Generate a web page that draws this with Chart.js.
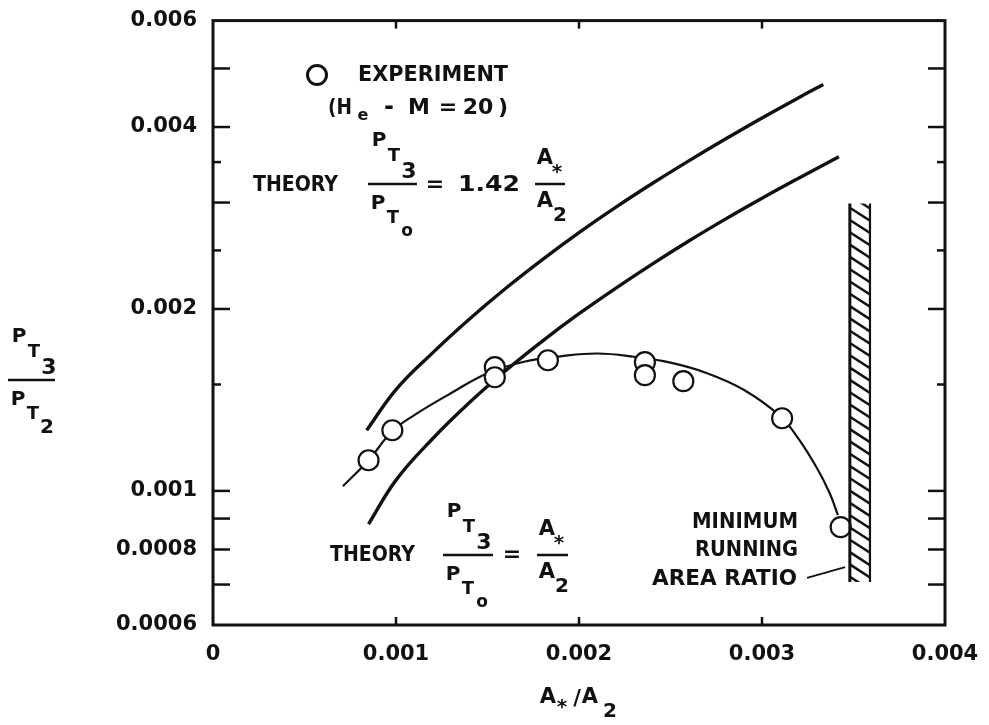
<!DOCTYPE html>
<html>
<head>
<meta charset="utf-8">
<script src="https://cdn.jsdelivr.net/npm/chart.js@4.4.1/dist/chart.umd.min.js"></script>
<style>
  html, body { margin: 0; padding: 0; background: #fff; }
  #contenedor { width: 989px; height: 725px; }
</style>
</head>
<body>
<div id="contenedor"><canvas id="grafica"></canvas></div>
<script>
// Puntos experimentales (He - M = 20)
const expX = [0.00085, 0.00098, 0.00154, 0.00154, 0.00183, 0.00236, 0.00236, 0.00257, 0.00311, 0.00343];
const expY = [0.001124, 0.00126, 0.001602, 0.001542, 0.001645, 0.001633, 0.001554, 0.001519, 0.001319, 0.000871];

// Curva trazada por los puntos
const ajusteX = [0.00071, 0.00085, 0.00098, 0.0011, 0.0013, 0.0015, 0.0017, 0.0019, 0.0021, 0.0023, 0.0025, 0.0027, 0.0029, 0.0031, 0.0032, 0.0033, 0.00337, 0.003415];
const ajusteY = [0.001018, 0.001124, 0.001256, 0.001335, 0.001451, 0.001566, 0.001636, 0.00167, 0.001688, 0.001667, 0.00163, 0.001566, 0.00147, 0.001329, 0.001219, 0.001091, 0.000991, 0.000912];

// Teoria PT3/PTo = 1.42 A*/A2
const teoriaAltaX = [0.00084, 0.001, 0.0012, 0.0014, 0.0016, 0.0018, 0.002, 0.0022, 0.0024, 0.0026, 0.0028, 0.003, 0.0032, 0.003335];
const teoriaAltaY = [0.00126, 0.001471, 0.001692, 0.001923, 0.002164, 0.002414, 0.002675, 0.002945, 0.003225, 0.003516, 0.003821, 0.004141, 0.004473, 0.004704];

// Teoria PT3/PTo = A*/A2
const teoriaBajaX = [0.00085, 0.001, 0.0012, 0.0014, 0.0016, 0.0018, 0.002, 0.0022, 0.0024, 0.0026, 0.0028, 0.003, 0.0032, 0.00342];
const teoriaBajaY = [0.000881, 0.001042, 0.00122, 0.001399, 0.001582, 0.00177, 0.001964, 0.002164, 0.002373, 0.002591, 0.002816, 0.003049, 0.003291, 0.003573];

// Ejes
const xEtiquetas = [0, 0.001, 0.002, 0.003, 0.004];
const yEtiquetas = [0.0006, 0.0008, 0.001, 0.002, 0.004, 0.006];
const xMarcas = [0.001, 0.002, 0.003];
const yMarcasLargas = [0.0007, 0.0008, 0.0009, 0.001, 0.002, 0.003, 0.004, 0.005];
const yMarcasCortas = [0.0015, 0.0025, 0.0035];

// Zona rayada: relacion de area minima de funcionamiento
const zonaX = [0.00348, 0.00359];
const zonaY = [0.000707, 0.00299];
const guiaX = [0.003246, 0.003454];
const guiaY = [0.000718, 0.000748];

const tinta = "#111";
const fuente = "DejaVu Sans";

function texto(ctx, s, x, y, size, align, ancho) {
    ctx.save();
    ctx.font = `bold ${size}px "${fuente}"`;
    ctx.textBaseline = "middle";
    ctx.textAlign = "left";
    const w = ctx.measureText(s).width;
    const sx = ancho ? ancho / w : 1;
    const x0 = align === "right" ? x - w * sx : align === "center" ? x - w * sx / 2 : x;
    ctx.translate(x0, y);
    ctx.scale(sx, 1);
    ctx.fillText(s, 0, 0);
    ctx.restore();
}

function raya(ctx, x0, y0, x1, y1, lw) {
    ctx.lineWidth = lw;
    ctx.beginPath();
    ctx.moveTo(x0, y0);
    ctx.lineTo(x1, y1);
    ctx.stroke();
}

// fraccion P_T? / P_T?
function fraccionP(ctx, izq, yBarra, ancho, subArriba, subAbajo) {
    raya(ctx, izq, yBarra, izq + ancho, yBarra, 2.5);
    texto(ctx, "P", izq + 11, yBarra - 43, 20, "center");
    texto(ctx, "T", izq + 26, yBarra - 28, 18, "center");
    texto(ctx, subArriba, izq + 41, yBarra - 12, 22, "center");
    texto(ctx, "P", izq + 10, yBarra + 20, 20, "center");
    texto(ctx, "T", izq + 25, yBarra + 34, 18, "center");
    texto(ctx, subAbajo, izq + 39, yBarra + 48, subAbajo === "o" ? 17 : 20, "center");
}

// fraccion A*/A2
function fraccionA(ctx, izq, yBarra, ancho) {
    raya(ctx, izq, yBarra, izq + ancho, yBarra, 2.5);
    texto(ctx, "A", izq + 10, yBarra - 25, 21, "center");
    texto(ctx, "*", izq + 22, yBarra - 11, 20, "center");
    texto(ctx, "A", izq + 10, yBarra + 18, 21, "center");
    texto(ctx, "2", izq + 25, yBarra + 32, 20, "center");
}

const decoracion = {
    id: "decoracion",
    afterDatasetsDraw(chart) {
        const { ctx, chartArea: a, scales: { x, y } } = chart;
        ctx.save();
        ctx.strokeStyle = tinta;
        ctx.fillStyle = tinta;

        // marco
        ctx.lineWidth = 3;
        ctx.strokeRect(a.left, a.top, a.right - a.left, a.bottom - a.top);

        // marcas hacia dentro
        const marcaY = (v, largo) => {
            const py = y.getPixelForValue(v);
            raya(ctx, a.left, py, a.left + largo, py, 2.5);
            raya(ctx, a.right, py, a.right - largo, py, 2.5);
        };
        yMarcasLargas.forEach(v => marcaY(v, 17));
        yMarcasCortas.forEach(v => marcaY(v, 8));
        xMarcas.forEach(v => {
            const px = x.getPixelForValue(v);
            raya(ctx, px, a.bottom, px, a.bottom - 8, 2.5);
            raya(ctx, px, a.top, px, a.top + 8, 2.5);
        });

        // zona rayada
        const zx0 = x.getPixelForValue(zonaX[0]);
        const zx1 = x.getPixelForValue(zonaX[1]);
        const zy0 = y.getPixelForValue(zonaY[1]);
        const zy1 = y.getPixelForValue(zonaY[0]);
        raya(ctx, zx0, zy0, zx0, zy1, 3);
        raya(ctx, zx1, zy0, zx1, zy1, 2.2);
        ctx.save();
        ctx.beginPath();
        ctx.rect(zx0, zy0, zx1 - zx0, zy1 - zy0);
        ctx.clip();
        for (let py = zy0 - 8; py < zy1 + 14; py += 12.3) {
            raya(ctx, zx0, py, zx1, py + 13, 2.5);
        }
        ctx.restore();

        // linea guia
        raya(ctx, x.getPixelForValue(guiaX[0]), y.getPixelForValue(guiaY[0]),
            x.getPixelForValue(guiaX[1]), y.getPixelForValue(guiaY[1]), 1.8);

        // leyenda del experimento
        ctx.lineWidth = 3;
        ctx.beginPath();
        ctx.arc(317, 75, 9.5, 0, Math.PI * 2);
        ctx.stroke();
        texto(ctx, "EXPERIMENT", 358, 75, 22, "left", 150);
        texto(ctx, "(H", 328, 108, 22, "left", 24);
        texto(ctx, "e", 363, 116, 16, "center");
        texto(ctx, "-", 389, 108, 24, "center");
        texto(ctx, "M", 419, 108, 22, "center");
        texto(ctx, "=", 448, 108, 22, "center");
        texto(ctx, "20", 478, 108, 22, "center");
        texto(ctx, ")", 503, 108, 22, "center");

        // teoria superior
        texto(ctx, "THEORY", 253, 185, 22, "left", 85);
        fraccionP(ctx, 368, 184, 49, "3", "o");
        texto(ctx, "=", 435, 185, 22, "center");
        texto(ctx, "1.42", 458, 185, 22, "left", 62);
        fraccionA(ctx, 535, 184, 30);

        // teoria inferior
        texto(ctx, "THEORY", 330, 555, 22, "left", 85);
        fraccionP(ctx, 443, 555, 50, "3", "o");
        texto(ctx, "=", 512, 555, 22, "center");
        fraccionA(ctx, 537, 555, 31);

        // area minima
        texto(ctx, "MINIMUM", 798, 522, 22, "right", 106);
        texto(ctx, "RUNNING", 798, 550, 22, "right", 103);
        texto(ctx, "AREA RATIO", 797, 579, 22, "right", 145);

        // titulo eje y
        fraccionP(ctx, 8, 380, 47, "3", "2");

        // titulo eje x
        texto(ctx, "A", 548, 698, 21, "center");
        texto(ctx, "*", 562, 708, 20, "center");
        texto(ctx, "/", 577, 700, 21, "center");
        texto(ctx, "A", 590, 698, 21, "center");
        texto(ctx, "2", 610, 712, 20, "center");

        ctx.restore();
    }
};

const puntos = (xs, ys) => xs.map((v, i) => ({ x: v, y: ys[i] }));

const ctx = document.getElementById("grafica").getContext("2d");
new Chart(ctx, {
    type: "scatter",
    data: {
        datasets: [{
            label: "Experiment",
            data: puntos(expX, expY),
            pointRadius: 10,
            pointBorderWidth: 2.2,
            pointBorderColor: tinta,
            pointBackgroundColor: "#fff",
            showLine: false
        }, {
            label: "Ajuste",
            data: puntos(ajusteX, ajusteY),
            showLine: true,
            borderColor: tinta,
            borderWidth: 2.2,
            pointRadius: 0,
            tension: 0.4
        }, {
            label: "Teoria 1.42",
            data: puntos(teoriaAltaX, teoriaAltaY),
            showLine: true,
            borderColor: tinta,
            borderWidth: 3.4,
            pointRadius: 0,
            tension: 0.4
        }, {
            label: "Teoria 1",
            data: puntos(teoriaBajaX, teoriaBajaY),
            showLine: true,
            borderColor: tinta,
            borderWidth: 3.4,
            pointRadius: 0,
            tension: 0.4
        }]
    },
    options: {
        responsive: true,
        maintainAspectRatio: false,
        animation: false,
        layout: { padding: { top: 20, right: 44, left: 0, bottom: 0 } },
        plugins: { legend: { display: false }, tooltip: { enabled: false } },
        scales: {
            x: {
                type: "linear",
                min: 0,
                max: 0.004,
                afterBuildTicks: (s) => { s.ticks = xEtiquetas.map(v => ({ value: v })); },
                afterFit: (s) => { s.height = 100; },
                grid: { display: false },
                border: { display: false },
                ticks: {
                    autoSkip: false,
                    maxRotation: 0,
                    padding: 9,
                    color: tinta,
                    font: { family: fuente, size: 21, weight: "bold" },
                    callback: (v) => v === 0 ? "0" : v.toFixed(3)
                }
            },
            y: {
                type: "logarithmic",
                min: 0.0006,
                max: 0.006,
                afterBuildTicks: (s) => { s.ticks = yEtiquetas.map(v => ({ value: v })); },
                afterFit: (s) => { s.width = 213; },
                grid: { display: false },
                border: { display: false },
                ticks: {
                    autoSkip: false,
                    padding: 8,
                    color: tinta,
                    font: { family: fuente, size: 21, weight: "bold" },
                    callback: (v) => String(v)
                }
            }
        }
    },
    plugins: [decoracion]
});
</script>
</body>
</html>
